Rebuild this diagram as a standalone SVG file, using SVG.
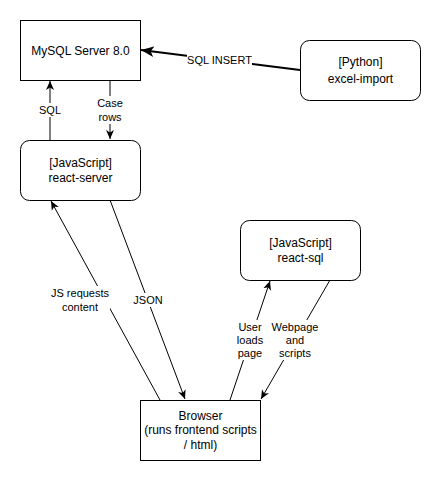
<svg xmlns="http://www.w3.org/2000/svg" width="441" height="481" viewBox="0 0 441 481">
<style>
.box{fill:#fff;stroke:#000;stroke-width:1}
.nt{font-family:"Liberation Sans",Arial,sans-serif;font-size:12px;fill:#000;text-anchor:middle;dominant-baseline:central}
.lt{font-family:"Liberation Sans",Arial,sans-serif;font-size:11px;fill:#000;text-anchor:middle;dominant-baseline:central}
.e{fill:none;stroke:#000;stroke-width:1}
.bg{fill:#fff}
</style>
<defs>
<marker id="a" markerWidth="10" markerHeight="10" refX="9" refY="4" orient="auto" markerUnits="userSpaceOnUse" viewBox="0 0 10 8">
<path d="M0,0 L9,4 L0,8 L2.5,4 Z" fill="#000"/>
</marker>
<marker id="a2" markerWidth="14" markerHeight="12" refX="12" refY="5" orient="auto" markerUnits="userSpaceOnUse" viewBox="0 0 13 10">
<path d="M0,0 L12,5 L0,10 L3,5 Z" fill="#000"/>
</marker>
</defs>
<rect width="441" height="481" fill="#fff"/>
<g id="connectors">
<line class="e" x1="300" y1="70" x2="141" y2="50" stroke-width="2" style="stroke-width:2" marker-end="url(#a2)"/>
<line class="e" x1="50" y1="140" x2="50" y2="81" marker-end="url(#a)"/>
<line class="e" x1="110" y1="80" x2="110" y2="139" marker-end="url(#a)"/>
<line class="e" x1="160" y1="400" x2="51" y2="201" marker-end="url(#a)"/>
<line class="e" x1="110" y1="200" x2="185" y2="399" marker-end="url(#a)"/>
<line class="e" x1="230" y1="400" x2="270" y2="281" marker-end="url(#a)"/>
<line class="e" x1="330" y1="280" x2="261" y2="399" marker-end="url(#a)"/>
<g id="labels">
<rect class="bg" x="187" y="53" width="65" height="14"/>
<text class="lt" x="219.5" y="60">SQL INSERT</text>
<rect class="bg" x="38" y="103" width="24" height="14"/>
<text class="lt" x="50" y="110">SQL</text>
<rect class="bg" x="96" y="96" width="28" height="28"/>
<text class="lt" x="110" y="103">Case</text>
<text class="lt" x="110" y="117">rows</text>
<rect class="bg" x="50" y="286" width="60" height="28"/>
<text class="lt" x="80" y="293">JS requests</text>
<text class="lt" x="80" y="307">content</text>
<rect class="bg" x="133" y="293" width="31" height="14"/>
<text class="lt" x="148" y="300">JSON</text>
<rect class="bg" x="236" y="320" width="28" height="40"/>
<text class="lt" x="250" y="327">User</text>
<text class="lt" x="250" y="340">loads</text>
<text class="lt" x="250" y="353">page</text>
<rect class="bg" x="272" y="320" width="47" height="40"/>
<text class="lt" x="295" y="327">Webpage</text>
<text class="lt" x="295" y="340">and</text>
<text class="lt" x="295" y="353">scripts</text>
</g>
</g>
<g id="mysql">
<rect class="box" x="20.5" y="20.5" width="120" height="60"/>
<text class="nt" x="80.5" y="50.5">MySQL Server 8.0</text>
</g>
<g id="excel-import">
<rect class="box" x="300.5" y="40.5" width="120" height="60" rx="9"/>
<text class="nt" x="360.5" y="62">[Python]</text>
<text class="nt" x="360.5" y="78.5">excel-import</text>
</g>
<g id="react-server">
<rect class="box" x="20.5" y="140.5" width="120" height="60" rx="9"/>
<text class="nt" x="80.5" y="163">[JavaScript]</text>
<text class="nt" x="80.5" y="177.5">react-server</text>
</g>
<g id="react-sql">
<rect class="box" x="240.5" y="220.5" width="120" height="60" rx="9"/>
<text class="nt" x="300.5" y="243">[JavaScript]</text>
<text class="nt" x="300.5" y="257.5">react-sql</text>
</g>
<g id="browser">
<rect class="box" x="140.5" y="400.5" width="120" height="60"/>
<text class="nt" x="200.5" y="416">Browser</text>
<text class="nt" x="200.5" y="430">(runs frontend scripts</text>
<text class="nt" x="200.5" y="445">/ html)</text>
</g>
</svg>
